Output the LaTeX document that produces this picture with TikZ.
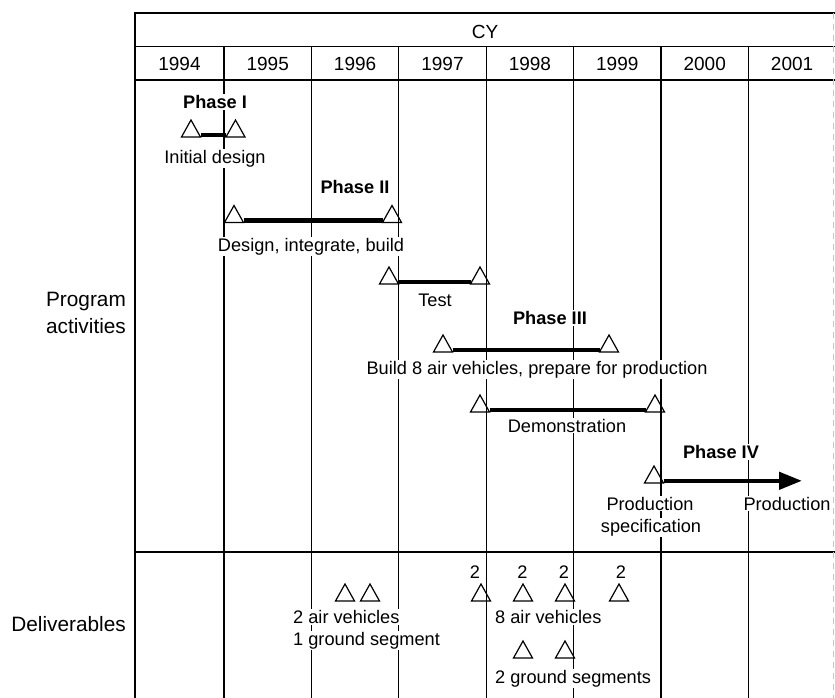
\documentclass[tikz,border=0pt]{standalone}
\usepackage{fontspec}
\setmainfont{Liberation Sans}
\usetikzlibrary{arrows.meta}
\newcommand\mytri[3]{\draw[trishape] (#2-9.5,#3) coordinate (#1-L) -- (#2,#3-17) coordinate (#1-A) -- (#2+9.5,#3) coordinate (#1-R) -- cycle;}
\begin{document}
\begin{tikzpicture}[x=1pt,y=-1pt,
  framerule/.style={line width=1.9pt},
  thinrule/.style={line width=1.3pt},
  heavyrule/.style={line width=2.6pt},
  gridline/.style={line width=1.1pt},
  trishape/.style={line width=1.2pt, line join=miter},
  barline/.style={line width=4.4pt},
  txt/.style={font=\fontsize{18.2}{22}\selectfont, inner sep=1pt, anchor=base},
  hdr/.style={txt, font=\fontsize{19}{22}\selectfont},
  lbl/.style={txt, fill=white},
  phase/.style={lbl, font=\fontsize{18.2}{22}\selectfont\bfseries},
  side/.style={font=\fontsize{20.8}{26}\selectfont, inner sep=1pt, anchor=base},
]
\useasboundingbox (0,0) rectangle (835,698);
% table frame
\draw[thinrule] (135,13) -- (835,13);
\draw[thinrule] (135,46.5) -- (835,46.5);
\foreach \x in {224,311.4,398.8,486.2,573.6,661,748.4}
  \draw[gridline] (\x,46.5) -- (\x,698);
\draw[heavyrule] (135,80) -- (835,80);
\draw[heavyrule] (135,552) -- (835,552);
\draw[framerule] (135,12) -- (135,698);
\draw[line width=0.7pt, gray!45, dash pattern=on 6pt off 5pt] (833,13) -- (833,698);
% header
\node[hdr] (cy) at (485,38.5) {CY};
\foreach \yr/\cx in {1994/179.5,1995/267.7,1996/355.1,1997/442.5,1998/529.9,1999/617.3,2000/704.7,2001/792.1}
  \node[hdr] (y\yr) at (\cx,71) {\yr};
% side labels
\node[side] (prog) at (86,306.5) {Program};
\node[side] (acts) at (86,333.5) {activities};
\node[side, anchor=base east] (deliv) at (127,631.5) {Deliverables};
% Phase I
\node[phase] (ph1) at (215,108.5) {Phase I};
\mytri{t1a}{191}{137}
\mytri{t1b}{235.5}{137}
\draw[barline] ([yshift=2.2pt]t1a-R) -- ([yshift=2.2pt]t1b-L);
\node[lbl] (init) at (215,163) {Initial design};
% Phase II
\node[phase] (ph2) at (355,193.5) {Phase II};
\mytri{t2a}{234}{222.5}
\mytri{t2b}{392}{222.5}
\draw[barline] ([yshift=2.2pt]t2a-R) -- ([yshift=2.2pt]t2b-L);
\node[lbl] (dib) at (311,251) {Design, integrate, build};
% Test
\mytri{t3a}{389}{284}
\mytri{t3b}{480}{284}
\draw[barline] ([yshift=2.2pt]t3a-R) -- ([yshift=2.2pt]t3b-L);
\node[lbl] (test) at (435,306.5) {Test};
% Phase III
\node[phase] (ph3) at (550,324.5) {Phase III};
\mytri{t4a}{443}{352}
\mytri{t4b}{609}{352}
\draw[barline] ([yshift=2.2pt]t4a-R) -- ([yshift=2.2pt]t4b-L);
\node[lbl] (build) at (537,374) {Build 8 air vehicles, prepare for production};
% Demonstration
\mytri{t5a}{480}{412}
\mytri{t5b}{655}{412}
\draw[barline] ([yshift=2.2pt]t5a-R) -- ([yshift=2.2pt]t5b-L);
\node[lbl] (demo) at (567,432) {Demonstration};
% Phase IV
\node[phase] (ph4) at (721,458.5) {Phase IV};
\mytri{t6}{654}{483}
\coordinate (prodend) at (802,480.8);
\draw[barline, -{Triangle[length=23pt,width=17pt]}] ([yshift=2.2pt]t6-R) -- (prodend);
\node[lbl] (prodspec1) at (650,510) {Production};
\node[lbl] (prodspec2) at (651,532) {specification};
\node[lbl] (prod) at (787,510) {Production};
% Deliverables
\mytri{d1}{345}{601}
\mytri{d2}{370}{601}
\node[lbl, anchor=base west] (av2) at (292,623.5) {2 air vehicles};
\node[lbl, anchor=base west] (gs1) at (292,645.5) {1 ground segment};
\node[txt] (n1) at (475,578.5) {2};
\node[txt] (n2) at (522.5,578.5) {2};
\node[txt] (n3) at (564,578.5) {2};
\node[txt] (n4) at (621,578.5) {2};
\mytri{d3}{481}{601}
\mytri{d4}{523}{601}
\mytri{d5}{565}{601}
\mytri{d6}{619}{601}
\node[lbl, anchor=base west] (av8) at (494,623.5) {8 air vehicles};
\mytri{d7}{523}{658}
\mytri{d8}{565}{658}
\node[lbl, anchor=base west] (gs2) at (494,683.5) {2 ground segments};
\end{tikzpicture}
\end{document}
